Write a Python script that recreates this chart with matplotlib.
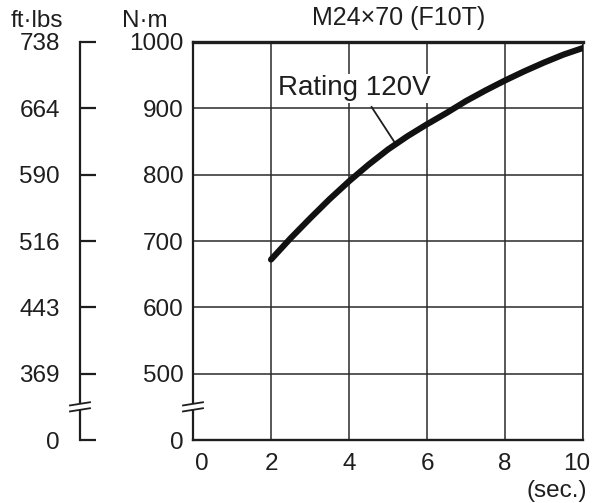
import matplotlib
matplotlib.use('Agg')
import matplotlib.pyplot as plt
import matplotlib.transforms as mtransforms
from matplotlib.lines import Line2D
from matplotlib.patches import Rectangle

plt.rcParams['font.family'] = ['Liberation Sans', 'DejaVu Sans']

# ---- data ----
time_s = [2.0, 2.5, 3.0, 3.5, 4.0, 4.5, 5.0, 5.5, 6.0, 6.5, 7.0, 7.5, 8.0, 8.5, 9.0, 9.5, 10.0]
torque_nm = [672, 704, 734, 763, 790, 815, 838, 858, 876, 893, 911, 927, 942, 956, 969, 981, 991]
x_ticks = [0, 2, 4, 6, 8, 10]
nm_tick_values = [0, 500, 600, 700, 800, 900, 1000]
nm_tick_labels = ['0', '500', '600', '700', '800', '900', '1000']
ftlb_tick_labels = ['0', '369', '443', '516', '590', '664', '738']
ZERO_POS = 400  # the axis break compresses 0..400 N·m into one step


def ypos(v):
    return ZERO_POS if v == 0 else v


W, H = 593, 503
INK = '#1e1e1e'
fig = plt.figure(figsize=(W / 100, H / 100), dpi=100)
ax = fig.add_axes([193 / W, 63 / H, 390 / W, 398 / H])
ax.set_xlim(0, 10)
ax.set_ylim(ZERO_POS, 1000)
ax.set_xticks(x_ticks)
ax.set_yticks([ypos(v) for v in nm_tick_values])
ax.set_yticklabels(nm_tick_labels)
ax.grid(True, color='#2a2a2a', lw=1.1)
ax.tick_params(length=0, labelsize=17.5, colors=INK)
ax.tick_params(axis='y', pad=6.5)
ax.tick_params(axis='x', pad=9.5)
for side, lw in [('left', 1.6), ('bottom', 1.7), ('top', 2.4), ('right', 1.1)]:
    ax.spines[side].set_linewidth(lw)
    ax.spines[side].set_color(INK)

ax.plot(time_s, torque_nm, color='#111111', lw=4.4, solid_capstyle='round',
        solid_joinstyle='round', zorder=4)
ax.text(4.13, 930, 'Rating 120V', ha='center', va='center', fontsize=20, color=INK,
        bbox=dict(facecolor='white', edgecolor='none', pad=1.0), zorder=3)
ax.plot([4.58, 5.2], [902, 846], color=INK, lw=1.3, zorder=3)

# shift the end labels like the original
fig.canvas.draw()
xl = ax.get_xticklabels()
xl[0].set_transform(xl[0].get_transform() + mtransforms.ScaledTranslation(9 / 100, 0, fig.dpi_scale_trans))
xl[-1].set_transform(xl[-1].get_transform() + mtransforms.ScaledTranslation(-6 / 100, 0, fig.dpi_scale_trans))

# ---- secondary ft·lbs scale ----
ax2 = fig.add_axes([80 / W, 63 / H, 0.5 / W, 398 / H])
ax2.patch.set_visible(False)
for side in ['right', 'top', 'bottom']:
    ax2.spines[side].set_visible(False)
ax2.spines['left'].set_linewidth(1.6)
ax2.spines['left'].set_color(INK)
ax2.set_xticks([])
ax2.set_ylim(ZERO_POS, 1000)
ax2.set_yticks([ypos(v) for v in nm_tick_values])
ax2.set_yticklabels(ftlb_tick_labels)
ax2.tick_params(axis='y', direction='in', length=11.5, width=1.6, pad=14.5,
                labelsize=17.5, colors=INK)

# ---- axis break marks ----
fig.canvas.draw()
ident = mtransforms.IdentityTransform()
for a in (ax, ax2):
    xd, yd = a.transData.transform((a.get_xlim()[0], 450))
    fig.add_artist(Rectangle((xd - 2, yd - 3), 4, 6, facecolor='white', edgecolor='none',
                             transform=ident, zorder=10))
    for off in (3, -3):
        fig.add_artist(Line2D([xd - 10, xd + 10], [yd + off - 1.6, yd + off + 1.6],
                              color=INK, lw=1.3, transform=ident, zorder=11))

# ---- free texts ----
fig.text(36.5 / W, 1 - 21 / H, 'ft·lbs', ha='center', va='center', fontsize=17.5, color=INK)
fig.text(145 / W, 1 - 21 / H, 'N·m', ha='center', va='center', fontsize=17.5, color=INK)
fig.text(399 / W, 1 - 18 / H, 'M24×70 (F10T)', ha='center', va='center', fontsize=18, color=INK)
fig.text(557 / W, 1 - 491 / H, '(sec.)', ha='center', va='center', fontsize=17.5, color=INK)

fig.savefig('out.png', dpi=100)
